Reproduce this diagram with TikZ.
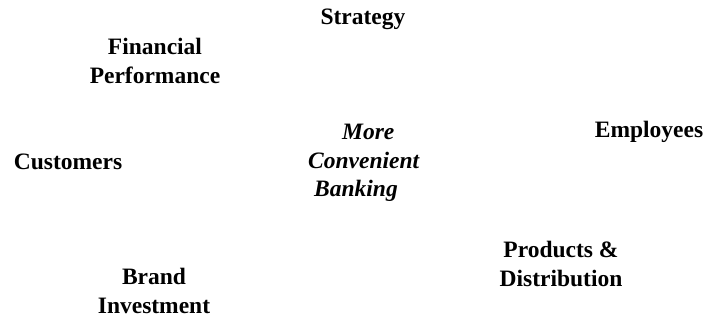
\documentclass[tikz,border=0pt]{standalone}
\usepackage{fontspec}
\setmainfont{Liberation Serif}
\tikzset{
  factor/.style={font=\fontsize{23.5}{28.5}\selectfont\bfseries, align=center, inner sep=0pt},
  hub/.style={font=\fontsize{23.5}{28.5}\selectfont\bfseries\itshape, align=left, inner sep=0pt}
}
\begin{document}
\begin{tikzpicture}[x=1pt,y=-1pt]
        \useasboundingbox (0, 0) rectangle (708, 322);
        \node[factor] (strategy) at (363, 19) {Strategy};
        \node[factor] (finance) at (155, 61) {Financial\\Performance};
        \node[factor] (customers) at (68, 162) {Customers};
        \node[factor] (employees) at (649, 132) {Employees};
        \node[hub, anchor=west] (banking) at (308, 163) {\hspace*{34pt}More\\Convenient\\\hspace*{6pt}Banking};
        \node[factor] (products) at (561, 264) {Products \&\\Distribution};
        \node[factor] (brand) at (154, 291) {Brand\\Investment};
      \end{tikzpicture}
\end{document}
